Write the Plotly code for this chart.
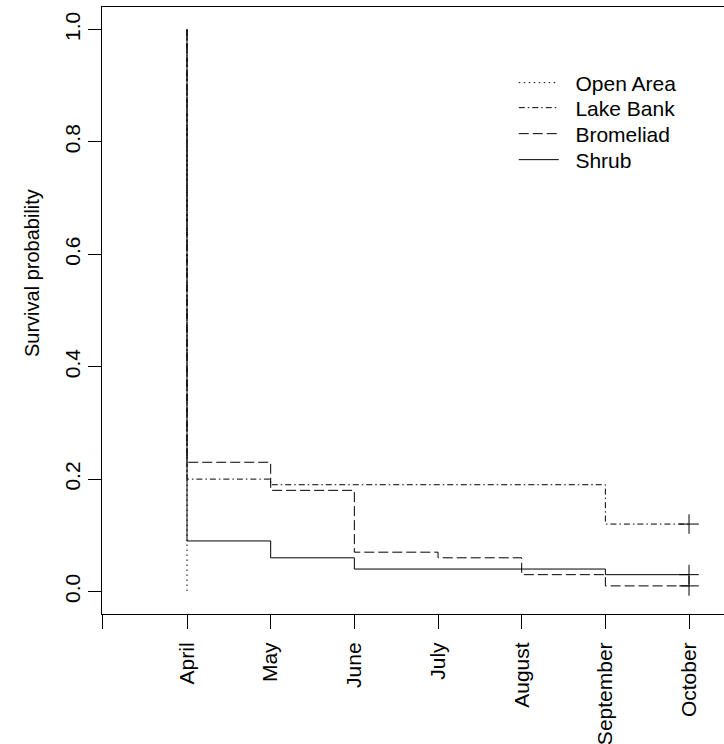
import plotly.graph_objects as go

# ---- data ----
months = ["April", "May", "June", "July", "August", "September", "October"]
month_pos = [1, 2, 3, 4, 5, 6, 7]

open_area = [0.0]                                   # drops to 0 at April
lake_bank = [0.20, 0.19, 0.19, 0.19, 0.19, 0.12, 0.12]
bromeliad = [0.23, 0.18, 0.07, 0.06, 0.03, 0.01, 0.01]
shrub = [0.09, 0.06, 0.04, 0.04, 0.04, 0.03, 0.03]
censored = {"Lake Bank": True, "Bromeliad": True, "Shrub": True, "Open Area": False}

series = [
    ("Open Area", open_area, "1.5px,3.5px"),
    ("Lake Bank", lake_bank, "6px,3px,1.5px,3px"),
    ("Bromeliad", bromeliad, "10px,4px"),
    ("Shrub", shrub, "solid"),
]
legend_rows_px = [83, 108, 134, 160]

FONT = "Liberation Sans, Arial, Helvetica, sans-serif"
fig = go.Figure()

PLOT_TOP, PLOT_BOTTOM = 7, 614
def py(px):
    return (PLOT_BOTTOM - px) / (PLOT_BOTTOM - PLOT_TOP)

legend_layouts = {}
for i, (name, vals, dash) in enumerate(series):
    xs = [month_pos[0]] + month_pos[:len(vals)]
    ys = [1.0] + vals
    lg = "legend" if i == 0 else f"legend{i + 1}"
    fig.add_trace(go.Scatter(
        x=xs, y=ys, mode="lines", name="\u00a0\u00a0" + name, line_shape="hv",
        line=dict(color="black", width=1, dash=dash), legend=lg,
    ))
    legend_layouts[lg] = dict(
        x=0.662, y=py(legend_rows_px[i]), xanchor="left", yanchor="middle",
        bgcolor="rgba(0,0,0,0)", borderwidth=0, font=dict(size=21), itemwidth=40,
    )

for name, vals, dash in series:
    if censored[name]:
        fig.add_trace(go.Scatter(
            x=[month_pos[len(vals) - 1]], y=[vals[-1]], mode="markers", showlegend=False,
            marker=dict(symbol="cross-thin", size=14, line=dict(color="black", width=1)),
        ))

x_left = -0.016
unit_px = 83.67
plot_w = 622
fig.update_layout(
    width=724, height=744,
    margin=dict(l=102, r=0, t=PLOT_TOP, b=744 - PLOT_BOTTOM),
    paper_bgcolor="white", plot_bgcolor="white",
    font=dict(family=FONT, size=21, color="black"),
    showlegend=True,
    xaxis=dict(
        range=[x_left, x_left + plot_w / unit_px],
        tickvals=[x_left] + month_pos, ticktext=[""] + months,
        tickangle=-90, ticks="outside", ticklen=14, tickwidth=1, tickcolor="black",
        showline=True, linecolor="black", linewidth=1, mirror=True,
        showgrid=False, zeroline=False, tickfont=dict(size=21), ticklabelstandoff=5,
    ),
    yaxis=dict(
        range=[-0.04, 1.04],
        tickvals=[0, 0.2, 0.4, 0.6, 0.8, 1.0],
        ticktext=["0.0", "0.2", "0.4", "0.6", "0.8", "1.0"],
        tickangle=-90, ticks="outside", ticklen=13, tickwidth=1, tickcolor="black",
        showline=True, linecolor="black", linewidth=1, mirror=False,
        showgrid=False, zeroline=False, tickfont=dict(size=21),
    ),
    annotations=[dict(
        text="Survival probability", xref="paper", yref="paper",
        x=(32 - 102) / 622, y=py(273), showarrow=False,
        textangle=-90, font=dict(size=20), xanchor="center", yanchor="middle",
    )],
    **legend_layouts,
)

fig.write_html("out.html")
